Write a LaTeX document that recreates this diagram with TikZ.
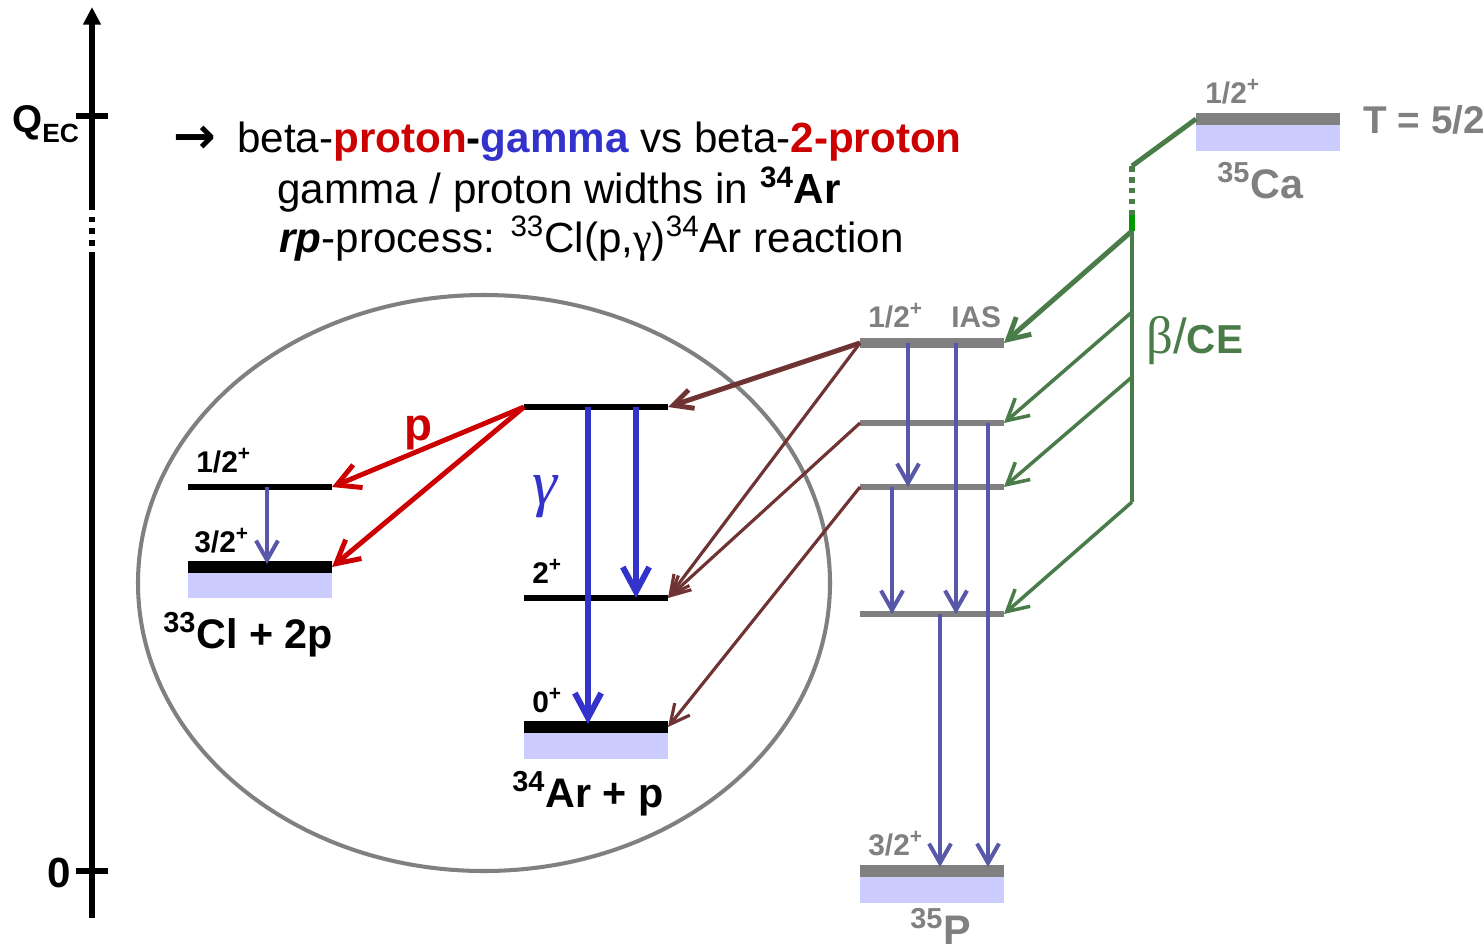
\documentclass[tikz,border=0pt]{standalone}
\usepackage{fontspec}
\setmainfont{Liberation Sans}
\newfontfamily\greekfont{Liberation Serif}
\newfontfamily\arrowfont{DejaVu Sans}
\usepackage{tikz}
\usetikzlibrary{arrows.meta,calc}
\definecolor{lvlgray}{RGB}{128,128,128}
\definecolor{lavender}{RGB}{204,204,255}
\definecolor{protred}{RGB}{204,0,0}
\definecolor{gamblue}{RGB}{51,51,204}
\definecolor{thinblue}{RGB}{88,88,168}
\definecolor{feedbrown}{RGB}{112,51,51}
\definecolor{betagreen}{RGB}{74,124,74}
\definecolor{litgreen}{RGB}{0,153,0}
\tikzset{
    axis/.style={line width=3.8pt, draw=black},
    tick/.style={line width=3.4pt, draw=black},
    lvl/.style={line width=3.1pt, draw=black},
    gnd/.style={line width=6.8pt, draw=black},
    band/.style={fill=lavender, draw=none},
    ring/.style={line width=2.3pt, draw=lvlgray},
    gam/.style={draw=gamblue, line width=3.4pt, -{Straight Barb[length=14pt,width=15pt]}},
    gamthin/.style={draw=thinblue, line width=2.3pt, -{Straight Barb[length=11pt,width=12.5pt]}},
    prot/.style={draw=protred, line width=2.8pt, -{Straight Barb[length=13pt,width=14pt]}},
    feed/.style={draw=feedbrown, line width=1.8pt, -{Straight Barb[length=11pt,width=11pt]}},
    beta/.style={draw=betagreen, line width=2pt},
    betaarr/.style={beta, -{Straight Barb[length=12pt,width=13pt]}},
    txt/.style={inner sep=0pt, anchor=base west},
    maintext/.style={txt, font=\fontsize{24}{28}\selectfont},
    lvllab/.style={txt, font=\fontsize{17}{20}\selectfont\bfseries},
    biglab/.style={txt, font=\fontsize{23.5}{28}\selectfont\bfseries}
}

\begin{document}
\begin{tikzpicture}[x=0.02cm,y=-0.02cm]
\useasboundingbox (0,0) rectangle (1484,950);

% energy axis
\coordinate (ax-bot) at (92,918);
\coordinate (ax-brk1) at (92,258);
\coordinate (ax-brk2) at (92,205);
\coordinate (ax-top) at (92,7);
\coordinate (qec) at (92,116);
\coordinate (zero) at (92,871);
\draw[axis] (ax-bot) -- (ax-brk1);
\draw[axis, dash pattern=on 3.2pt off 3.6pt] (ax-brk1) -- (ax-brk2);
\draw[axis, -{Triangle[length=10pt,width=9.6pt]}] (ax-brk2) -- (ax-top);
\draw[tick] ($(qec)+(-16,0)$) -- ($(qec)+(16,0)$);
\draw[tick] ($(zero)+(-16,0)$) -- ($(zero)+(16,0)$);
\node[txt, font=\fontsize{22}{26}\selectfont\bfseries] (qec-lab) at (12,132) {Q\raisebox{-6pt}{\fontsize{15}{18}\selectfont EC}};
\node[txt, font=\fontsize{24}{28}\selectfont\bfseries] (zero-lab) at (47,887) {0};

% physics case
\node[txt, font=\arrowfont\bfseries\fontsize{29}{32}\selectfont] (pc-arrow) at (173,153) {→};
\node[maintext] (pc-line1) at (237,152) {beta-\textcolor{protred}{\textbf{proton}}\textbf{-}\textcolor{gamblue}{\textbf{gamma}} vs beta-\textcolor{protred}{\textbf{2-proton}}};
\node[maintext] (pc-line2) at (277,203) {gamma / proton widths in \textbf{\textsuperscript{34}Ar}};
\node[maintext] (pc-line3) at (279,252) {\textbf{\textit{rp}}-process: \textsuperscript{33}Cl(p,{\greekfont γ})\textsuperscript{34}Ar reaction};

% window of the two decay channels
\draw[ring] (484,583) ellipse [x radius=346, y radius=288];

% 33Cl + 2p
\coordinate (cl1-l) at (188,487); \coordinate (cl1-r) at (332,487);
\coordinate (cl0-l) at (188,567); \coordinate (cl0-r) at (332,567);
\fill[band] (188,573) rectangle (332,598);
\draw[lvl] (cl1-l) -- (cl1-r);
\draw[gnd] (cl0-l) -- (cl0-r);
\node[lvllab] (cl1-lab) at (196,472) {1/2\textsuperscript{+}};
\node[lvllab] (cl0-lab) at (194,552) {3/2\textsuperscript{+}};
\node[biglab] (cl-name) at (163,648) {\textsuperscript{33}Cl + 2p};
\draw[gamthin] ($(cl1-l)+(79,0)$) -- ($(cl0-l)+(79,-3)$);

% 34Ar + p
\coordinate (ar2-l) at (524,407); \coordinate (ar2-r) at (668,407);
\coordinate (ar1-l) at (524,598); \coordinate (ar1-r) at (668,598);
\coordinate (ar0-l) at (524,727); \coordinate (ar0-r) at (668,727);
\fill[band] (524,733) rectangle (668,759);
\draw[lvl] (ar2-l) -- (ar2-r);
\draw[lvl] (ar1-l) -- (ar1-r);
\draw[gnd] (ar0-l) -- (ar0-r);
\node[lvllab] (ar1-lab) at (532,583) {2\textsuperscript{+}};
\node[lvllab] (ar0-lab) at (532,712) {0\textsuperscript{+}};
\node[biglab] (ar-name) at (512,807) {\textsuperscript{34}Ar + p};
\draw[gam] ($(ar2-l)+(64,0)$) -- ($(ar0-l)+(64,-3)$);
\draw[gam] ($(ar2-l)+(112,0)$) -- ($(ar1-l)+(112,0)$);
\node[text=gamblue, font=\greekfont\itshape\fontsize{36}{40}\selectfont] (gam-lab) at (545,497) {γ};

% proton branches
\draw[prot] (ar2-l) -- (cl1-r);
\draw[prot] (ar2-l) -- (cl0-r);
\node[txt, text=protred, font=\fontsize{26}{30}\selectfont\bfseries] (prot-lab) at (404,440) {p};

% 35K levels fed in the decay
\coordinate (ias-l) at (860,343); \coordinate (ias-r) at (1004,343);
\coordinate (cla-l) at (860,423); \coordinate (cla-r) at (1004,423);
\coordinate (clb-l) at (860,487); \coordinate (clb-r) at (1004,487);
\coordinate (clc-l) at (860,614); \coordinate (clc-r) at (1004,614);
\coordinate (p0-l) at (860,871); \coordinate (p0-r) at (1004,871);
\fill[band] (860,877) rectangle (1004,903);
\draw[gnd, draw=lvlgray, line width=6pt] (ias-l) -- (ias-r);
\draw[lvl, draw=lvlgray] (cla-l) -- (cla-r);
\draw[lvl, draw=lvlgray] (clb-l) -- (clb-r);
\draw[lvl, draw=lvlgray] (clc-l) -- (clc-r);
\draw[gnd, draw=lvlgray] (p0-l) -- (p0-r);
\node[lvllab, text=lvlgray] (ias-lab) at (868,327) {1/2\textsuperscript{+}};
\node[lvllab, text=lvlgray] (ias-tag) at (951,327) {IAS};
\node[lvllab, text=lvlgray] (p0-lab) at (868,855) {3/2\textsuperscript{+}};
\node[biglab, text=lvlgray] (p-name) at (910,944) {\textsuperscript{35}P};
\draw[gamthin] ($(ias-l)+(48,0)$) -- ($(clb-l)+(48,0)$);
\draw[gamthin] ($(ias-l)+(96,0)$) -- ($(clc-l)+(96,0)$);
\draw[gamthin] ($(cla-l)+(128,0)$) -- ($(p0-l)+(128,-4)$);
\draw[gamthin] ($(clb-l)+(32,0)$) -- ($(clc-l)+(32,0)$);
\draw[gamthin] ($(clc-l)+(80,0)$) -- ($(p0-l)+(80,-4)$);

% feeding of the 34Ar levels
\draw[feed, line width=2.8pt] (ias-l) -- (ar2-r);
\draw[feed] (ias-l) -- (ar1-r);
\draw[feed] (cla-l) -- (ar1-r);
\draw[feed] (clb-l) -- (ar0-r);

% 35Ca mother
\coordinate (ca-l) at (1196,119); \coordinate (ca-r) at (1340,119);
\fill[band] (1196,125) rectangle (1340,151);
\draw[gnd, draw=lvlgray] (ca-l) -- (ca-r);
\node[lvllab, text=lvlgray] (ca-lab) at (1205,103) {1/2\textsuperscript{+}};
\node[txt, text=lvlgray, font=\fontsize{22}{26}\selectfont\bfseries] (ca-iso) at (1363,133) {T = 5/2};
\node[biglab, text=lvlgray] (ca-name) at (1217,198) {\textsuperscript{35}Ca};

% beta decay
\coordinate (ca-kink) at (1132,166);
\coordinate (bt-dash) at (1132,215);
\coordinate (bt-hub) at (1132,231);
\coordinate (bt-a) at (1132,312);
\coordinate (bt-b) at (1132,377);
\coordinate (bt-c) at (1132,502);
\draw[beta, line width=2.8pt] (ca-l) -- (ca-kink);
\draw[beta, line width=3.4pt, dash pattern=on 3.2pt off 3pt] (ca-kink) -- (bt-dash);
\draw[draw=litgreen, line width=3.4pt] (bt-dash) -- (bt-hub);
\draw[beta, line width=2.3pt] (bt-hub) -- (bt-c);
\draw[betaarr, line width=2.8pt] (bt-hub) -- (ias-r);
\draw[betaarr] (bt-a) -- (cla-r);
\draw[betaarr] (bt-b) -- (clb-r);
\draw[betaarr] (bt-c) -- (clc-r);
\node[txt, text=betagreen] (beta-lab) at (1146,353) {{\greekfont\fontsize{30}{34}\selectfont β}{\fontsize{28}{32}\selectfont/}{\fontsize{23}{27}\selectfont\bfseries CE}};
\end{tikzpicture}
\end{document}
